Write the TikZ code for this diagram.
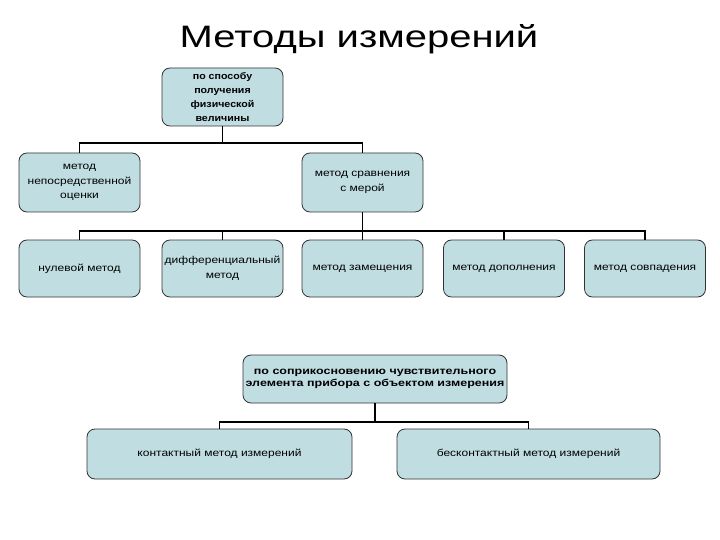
\documentclass[tikz,border=0pt]{standalone}
\usepackage{fontspec}
\setmainfont{Liberation Sans}
\newfontfamily\boxfont[FakeStretch=1.2]{Liberation Sans}
\newfontfamily\boldboxfont[FakeStretch=1.25]{Liberation Sans}
\newfontfamily\topboxfont[FakeStretch=1.12]{Liberation Sans}
\newfontfamily\titlefont[FakeStretch=1.29]{Liberation Sans}
\definecolor{boxfill}{RGB}{192,222,226}
\begin{document}
\begin{tikzpicture}[x=1pt,y=-1pt,
  box/.style={draw=black!80, line width=0.8pt, fill=boxfill, rounded corners=8pt,
    align=center, inner sep=1pt, font=\boxfont\fontsize{10}{14.5}\selectfont},
  boldbox/.style={box, font=\boldboxfont\fontsize{10}{12.5}\selectfont\bfseries},
  topbox/.style={box, font=\topboxfont\fontsize{9.5}{14}\selectfont\bfseries},
  conn/.style={draw=black, line width=1.8pt}]
\useasboundingbox (0,0) rectangle (720,540);
\fill[white] (0,0) rectangle (720,540);
\node (title) at (359,39) {\titlefont\fontsize{31}{36}\selectfont Методы измерений};
\node[topbox, minimum width=121pt, minimum height=58pt] (top) at (222.5,97) {по способу\\получения\\физической\\величины};
\node[box, minimum width=121pt, minimum height=59pt] (a) at (79.5,182.5) {метод\\непосредственной\\оценки};
\node[box, minimum width=121pt, minimum height=59pt] (b) at (362.5,182.5) {метод сравнения\\с мерой};
\node[box, minimum width=121pt, minimum height=57pt] (r1) at (79.5,268.5) {нулевой метод};
\node[box, minimum width=121pt, minimum height=57pt] (r2) at (222.5,268.5) {дифференциальный\\метод};
\node[box, minimum width=121pt, minimum height=57pt] (r3) at (362.5,268.5) {метод замещения};
\node[box, minimum width=121pt, minimum height=57pt] (r4) at (504,268.5) {метод дополнения};
\node[box, minimum width=121pt, minimum height=57pt] (r5) at (645,268.5) {метод совпадения};
\node[boldbox, minimum width=264pt, minimum height=48pt] (c) at (375,379) {по соприкосновению чувствительного\\элемента прибора с объектом измерения};
\node[box, minimum width=265pt, minimum height=50pt] (d) at (219.5,454) {контактный метод измерений};
\node[box, minimum width=263pt, minimum height=50pt] (e) at (528.5,454) {бесконтактный метод измерений};
\coordinate (j1) at (222.5,143);
\coordinate (j2) at (362.5,231);
\coordinate (j3) at (375,422);
\draw[conn] (top.south) -- (j1);
\draw[conn] (j1) -| (a.north);
\draw[conn] (j1) -| (b.north);
\draw[conn] (b.south) -- (j2);
\draw[conn] (j2) -| (r1.north);
\draw[conn] (j2) -| (r2.north);
\draw[conn] (j2) -- (r3.north);
\draw[conn] (j2) -| (r4.north);
\draw[conn] (j2) -| (r5.north);
\draw[conn] (c.south) -- (j3);
\draw[conn] (j3) -| (d.north);
\draw[conn] (j3) -| (e.north);
\end{tikzpicture}
\end{document}
